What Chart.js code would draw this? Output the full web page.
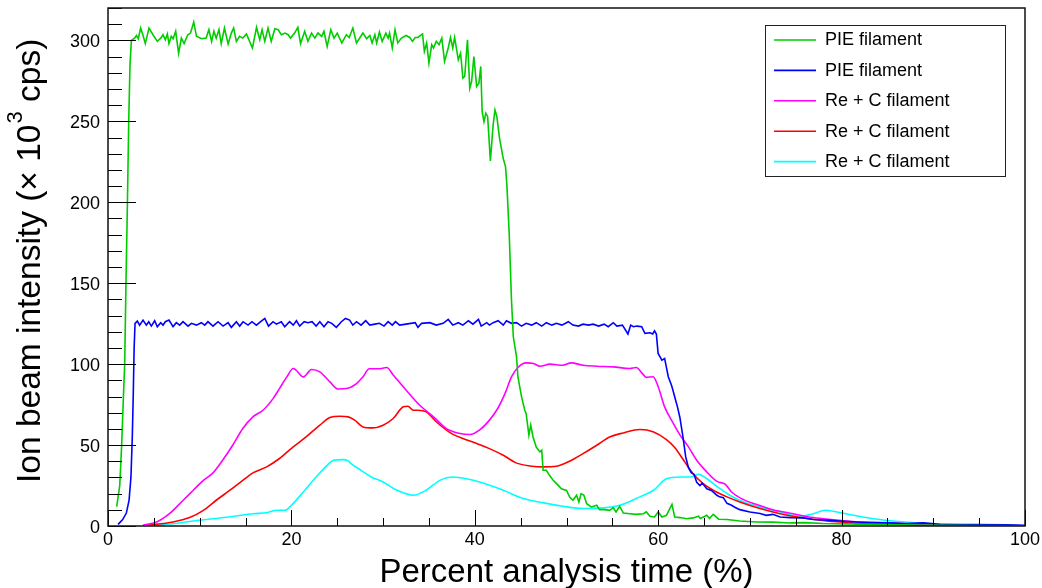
<!DOCTYPE html>
<html lang="en">
<head>
<meta charset="UTF-8">
<title>Ion beam intensity vs percent analysis time</title>
<script src="https://cdn.jsdelivr.net/npm/chart.js@4.4.1/dist/chart.umd.min.js"></script>
<style>
  html, body { margin: 0; padding: 0; background: #fff; }
  #wrap { width: 1042px; height: 588px; }
</style>
</head>
<body>
<div id="wrap"><canvas id="ionChart" width="1042" height="588"></canvas></div>
<script>
// series names and colours, in legend order
const seriesLabels = ['PIE filament', 'PIE filament', 'Re + C filament', 'Re + C filament', 'Re + C filament'];
const seriesColors = ['#00cc00', '#0000ff', '#ff00ff', '#ff0000', '#00ffff'];

// axis texts and ranges
const xTitle = 'Percent analysis time (%)';
const yTitleParts = ['Ion beam intensity (\u00d7 10', '3', ' cps)'];
const xRange = [0, 100];
const yRange = [0, 320];
const xStep = 20, xMinor = 5;
const yStep = 50, yMinor = 10;

// [percent, intensity]
const pieGreen = [
  [0.95,12],[1.28,25],[1.49,50],[1.65,75],[1.82,100],[1.96,150],[2.12,200],[2.26,250],[2.4,285],[2.55,300],
  [2.9,301.4],[3.1,303],[3.3,301],[3.56,307.6],[3.8,303.5],[4.07,298],[4.47,307.6],[4.9,303.5],[5.38,299.4],
  [5.75,301.4],[6.0,303.5],[6.25,300.4],[6.47,304],[6.65,298],[6.9,302.5],[7.1,301],[7.38,305.6],[7.7,292],
  [8.0,301.4],[8.3,298],[8.7,303.5],[9.0,304.5],[9.35,311.3],[9.65,302.5],[10.2,301],[10.7,301.4],[11.0,306.6],
  [11.3,299.4],[11.55,305.6],[11.8,301.4],[12.1,306.6],[12.35,298],[12.7,307.6],[13.1,297.7],[13.45,304.5],
  [13.7,307.6],[14.0,299.4],[14.35,302.5],[14.7,301.4],[15.1,304],[15.75,295.3],[16.2,308],[16.55,300.4],
  [16.8,306.6],[17.1,299.4],[17.45,307.6],[17.8,299.4],[18.2,307.2],[18.55,306.6],[18.9,303.5],[19.3,304.5],
  [19.65,303.5],[19.9,301.4],[20.35,304.5],[20.7,308],[21.0,298],[21.45,305.6],[21.8,299.4],[22.2,304.5],
  [22.55,301.4],[22.9,304.5],[23.3,302.5],[23.55,305.6],[23.9,296.3],[24.3,306.6],[24.65,301.4],[25.0,304.5],
  [25.5,298.4],[26.0,303.5],[26.3,301.8],[26.7,307.6],[27.1,298.4],[27.8,304.5],[28.2,301],[28.55,303],
  [28.8,298.4],[29.1,303.5],[29.3,298.4],[29.6,305.2],[29.9,299.4],[30.3,304.5],[30.55,301.4],[30.7,304.5],
  [31.0,295.3],[31.3,306.6],[31.6,298.4],[32.0,301.4],[32.5,303],[32.9,301.8],[33.2,299.4],[33.5,301.8],
  [33.8,301.8],[34.3,304],[34.5,293.2],[34.75,298.4],[35.0,286],[35.3,297.3],[35.5,295.3],[35.8,299.4],
  [36.1,297.3],[36.4,301.4],[36.7,287],[37.1,295.3],[37.35,301.8],[37.6,295.3],[37.8,301.8],[38.2,288],
  [38.45,292.1],[38.7,276.7],[38.9,277.7],[39.2,300.4],[39.45,270.5],[39.65,274.6],[39.9,290],[40.2,271.5],
  [40.45,273.6],[40.65,283.9],[40.8,256],[41.0,249.8],[41.2,255],[41.4,253],[41.7,225.5],[42.0,247.8],
  [42.2,257],[42.4,253],[42.7,239.5],[43.1,227],[43.35,222],[43.5,210.6],[43.75,181],[44.0,139.6],
  [44.2,116.9],[44.55,104.5],[44.7,92.2],[45.1,79.8],[45.45,71.5],[45.6,69.4],[45.9,56.1],[46.1,62.3],
  [46.35,55],[46.7,48.8],[47.1,45.8],[47.3,46.8],[47.45,34.4],[47.8,34.4],[48.15,31.3],[48.55,28.2],
  [49.1,25.1],[49.45,23],[50.0,22],[50.35,17.9],[50.7,15.9],[51.1,19],[51.35,14.8],[51.6,20],[51.9,19],
  [52.2,13.8],[52.7,11.8],[53.3,12.8],[53.6,10.1],[54.2,10.1],[54.7,9.7],[55.1,11.3],[55.4,8.7],[55.8,12.2],
  [56.2,8],[56.9,7.6],[57.6,7.2],[58.4,7.6],[58.7,8.7],[59.1,6],[59.6,5.6],[60.0,8.7],[60.4,5.6],[60.9,6.6],
  [61.5,13.4],[61.8,5.6],[62.4,5.2],[63.1,4.5],[63.8,5],[64.4,6],[64.6,4.6],[65.3,6.6],[65.6,4.6],[66.0,7.2],
  [66.6,4.2],[67.5,4],[68.9,3.1],[70.7,2.5],[72.5,2.4],[74.4,1.9],[76,2.1],[78.0,1.5],[80.5,1.3],[83.5,0.9],
  [88,0.6],[94.4,0.3],[100,0.2]
];

const pieBlue = [
  [1.1,1],[1.6,4],[2.0,8],[2.3,16],[2.5,30],[2.65,55],[2.75,80],[2.85,110],[2.95,125.2],
  [3.2,126.6],[3.45,124.1],[3.82,127.2],[4.18,124.1],[4.44,126.2],[4.73,123.5],[5.09,126.8],[5.38,123.1],
  [5.75,125.6],[6.0,124.1],[6.25,126.2],[6.65,127.2],[7.09,123.1],[7.45,125.6],[7.82,124.1],[8.18,126.2],
  [8.73,123.5],[9.09,125.2],[9.64,124.1],[10.18,125.6],[10.55,124.1],[10.9,126.2],[11.45,123.5],[12.0,126.2],
  [12.55,123.5],[13.1,125.6],[13.45,122.7],[14.0,126.2],[14.36,123.5],[14.73,126.2],[15.27,124.1],[15.7,126.2],
  [16.18,124.1],[16.65,126.2],[17.1,128.2],[17.5,123.5],[18.0,126.2],[18.36,124.7],[18.9,126.2],[19.27,123.1],
  [19.8,126.2],[20.2,124.1],[20.55,126.8],[20.9,123.5],[21.4,126.2],[21.8,125.6],[22.25,126.2],[22.7,123.5],
  [23.1,126.2],[23.55,123.1],[24.0,126.2],[24.4,125.2],[24.9,122.7],[25.45,126.2],[25.9,128.2],[26.35,127.2],
  [26.7,124.1],[27.1,126.2],[27.6,124.1],[28.1,126.8],[28.55,124.1],[29.1,124.7],[29.6,125.2],[30.1,123.5],
  [30.55,126.2],[31.0,124.1],[31.35,126.2],[31.8,124.1],[32.5,124.7],[33.5,125.6],[33.8,122.7],[34.2,125.2],
  [35.1,125.6],[35.8,124.1],[36.55,125.2],[37.1,127.6],[37.6,124.1],[38.2,125.6],[38.7,124.1],[39.3,126.8],
  [39.8,124.7],[40.4,127.6],[40.7,123.5],[41.3,125.6],[41.6,124.1],[42.0,125.6],[42.55,126.8],[43.1,124.1],
  [43.45,126.8],[44.0,125.2],[44.55,125.6],[45.1,123.5],[45.6,125.2],[46.2,124.1],[46.7,125.6],[47.3,123.5],
  [47.8,125.6],[48.4,124.1],[48.9,125.2],[49.5,124.1],[50.2,126.2],[50.7,124.1],[51.3,123.5],[51.8,124.7],
  [52.4,124.1],[52.9,124.7],[53.5,123.5],[54.1,124.7],[54.55,123.1],[55.1,125.6],[55.5,123.5],[56.1,124.1],
  [56.7,118.6],[57.0,124.1],[57.3,123.1],[57.7,123.5],[58.2,123.1],[58.55,119],[59.1,119.4],[59.4,118.6],
  [59.6,120.6],[59.8,118.6],[59.99,106.6],[60.4,102.5],[60.7,103.5],[61.1,92.2],[61.45,87],[61.6,84],
  [61.9,77.7],[62.1,73.6],[62.36,67.2],[62.7,55],[63.0,42.7],[63.3,36],[63.6,33],[63.9,32],[64.2,27],
  [64.55,25],[64.8,26.5],[65.3,23],[65.8,22],[66.4,19],[66.7,18],[67.1,17.5],[67.5,14],[68,12.8],[68.4,11.4],
  [68.9,10.1],[70,8.7],[71.1,7.7],[71.8,6.6],[72.5,7.2],[73.3,5.6],[74.4,5.2],[75.8,5],[76.9,4],[78.4,3.6],
  [79.8,3.1],[81.6,2.5],[83.5,2.1],[85.3,1.9],[87.1,1.5],[88.9,1.9],[90.7,1.1],[94.4,0.9],[98,0.7],[100,0.5]
];

const reMagenta = [
  [3.8,0.5],[5.3,2.5],[6.7,7.6],[8.2,15.9],[9.3,22.1],[10.4,28.2],[11.45,32.8],[12.5,40.6],[13.6,49.9],
  [14.7,60.2],[15.8,67.4],[16.9,71.5],[18.0,78.7],[18.7,84.9],[19.5,92.1],[20.2,97.3],[20.5,96.3],[21.3,92.1],
  [22.2,96.7],[23.1,95.2],[24.2,89],[25.1,84.6],[26,84.9],[27.1,88],[27.8,92.1],[28.5,97.1],[29.5,97.1],
  [30.4,97.9],[31.1,93.3],[32.5,84],[34,74.6],[35.5,67.4],[36.9,60.2],[38.4,57.1],[39.45,56.5],[40.5,59.2],
  [41.6,65.4],[42.5,72.6],[43.3,81.9],[44,92.1],[44.7,97.9],[45.6,100.8],[46.4,100.4],[47.1,98.7],[48.2,100],
  [49.6,99.3],[50.5,100.8],[51.8,99.3],[53.3,98.7],[55.1,98.3],[56.9,97.3],[57.6,97.9],[58.3,94],[58.7,91.8],
  [59.45,92.2],[60,86],[60.7,73.6],[61.45,65.4],[62.4,56],[63.3,48.9],[64.2,40.6],[65.3,33.4],[66.4,27.6],
  [67.3,25.8],[68,21],[69.3,16.3],[70.7,13.4],[72.5,10.1],[74.7,7.6],[76.9,5.2],[79.1,3.9],[82,2.5],
  [84.9,1.9],[88.2,1.1],[91.8,0.7],[100,0.1]
];

const reRed = [
  [4.2,0.4],[7.1,2.5],[8.9,5.2],[10.4,9.7],[11.8,15.9],[13.3,22.1],[14.7,28.2],[15.8,32.8],[17.3,36.5],
  [18.7,41.7],[20.2,48.9],[21.6,55],[23.1,62.3],[24.2,67],[25.3,67.8],[26.2,67.4],[26.9,65.4],[27.8,61.2],
  [28.9,60.6],[30,62.3],[31.1,66.4],[32.2,73.6],[32.7,74],[33.3,71.5],[33.8,71.5],[34.7,70.5],[35.8,64.4],
  [37.3,57.7],[38.7,54],[40.2,51],[41.6,47.8],[43.1,43.7],[44.5,39],[46,37.1],[47.5,36.5],[48.9,36.9],
  [50.4,40.2],[51.8,44.7],[53.3,49.9],[54.7,55],[56.2,57.5],[58,59.6],[59.5,58.1],[60.9,53.4],[61.8,48.5],
  [62.9,39.6],[63.8,32.3],[64.9,26.2],[66,22.1],[67.5,18],[68.9,14.9],[71.1,10.8],[73.3,7.6],[75.5,5.2],
  [78.4,3.1],[81.3,1.9],[84.9,0.9],[90,0.3],[100,0.1]
];

const reCyan = [
  [5.3,0.4],[7.1,1.4],[9.3,3.1],[11.45,4.5],[13.6,5.9],[15.8,7.6],[17.3,8.2],[18.4,9.7],[19.3,9.7],[20,12.8],
  [21.3,21],[22.7,30.3],[23.9,37.5],[24.6,40.6],[25.6,41],[26.2,40.2],[26.5,38.6],[27.6,34.4],[28.7,30.3],
  [30,27.2],[31.5,22.1],[33.3,19],[34.7,22.1],[36.2,28.2],[37.6,30.3],[39.1,29.2],[40.9,26.6],[43.1,22.1],
  [45.3,17],[47.5,14.3],[49.6,12.2],[51.8,10.8],[54,11.2],[55.8,12.8],[58,18],[59.5,22.1],[60.9,29.2],
  [62.4,30.3],[63.5,30.3],[64.4,31.9],[65.3,29.2],[66.4,24.5],[67.8,19],[69.3,14.9],[71.1,11.8],[73.3,8.7],
  [75.5,5.9],[76.9,7.6],[78.2,9.7],[79.5,8.7],[81.3,6.6],[83.5,4.5],[85.6,3.1],[88.5,1.9],[91.8,1.1],[100,0.1]
];

const seriesData = [pieGreen, pieBlue, reMagenta, reRed, reCyan];
const smoothSeries = [false, false, true, true, true];

const FONT = "'Liberation Sans', Arial, sans-serif";

// frame, inward ticks, titles and legend box in the ROOT look
const rootDecor = {
  id: 'rootDecor',
  afterDraw(chart) {
    const { ctx, chartArea: a, scales: { x, y } } = chart;
    ctx.save();
    ctx.strokeStyle = '#000';
    ctx.lineWidth = 1;
    ctx.beginPath();
    for (let v = yRange[0]; v <= yRange[1]; v += yMinor) {
      const py = Math.round(y.getPixelForValue(v)) + 0.5;
      const len = v % yStep === 0 ? 28 : 14;
      ctx.moveTo(a.left, py);
      ctx.lineTo(a.left + len, py);
    }
    for (let v = xRange[0]; v <= xRange[1]; v += xMinor) {
      const px = Math.round(x.getPixelForValue(v)) + 0.5;
      const len = v % xStep === 0 ? 16 : 8;
      ctx.moveTo(px, a.bottom);
      ctx.lineTo(px, a.bottom - len);
    }
    ctx.stroke();

    ctx.lineWidth = 1.5;
    ctx.strokeStyle = '#111';
    ctx.strokeRect(a.left, a.top, a.right - a.left, a.bottom - a.top);

    // x title
    ctx.fillStyle = '#000';
    ctx.font = '33px ' + FONT;
    ctx.textAlign = 'center';
    ctx.textBaseline = 'alphabetic';
    ctx.fillText(xTitle, (a.left + a.right) / 2, 582);

    // y title with superscript, rotated
    ctx.save();
    ctx.translate(39.5, 483);
    ctx.rotate(-Math.PI / 2);
    ctx.textAlign = 'left';
    ctx.font = '33.5px ' + FONT;
    ctx.fillText(yTitleParts[0], 0, 0);
    let off = ctx.measureText(yTitleParts[0]).width + 1;
    ctx.font = '22px ' + FONT;
    ctx.fillText(yTitleParts[1], off, -18);
    off += ctx.measureText(yTitleParts[1]).width;
    ctx.font = '33.5px ' + FONT;
    ctx.fillText(yTitleParts[2], off, 0);
    ctx.restore();

    // legend
    const box = { l: 765.5, t: 25.5, r: 1005.5, b: 176.5 };
    ctx.lineWidth = 1;
    ctx.strokeStyle = '#222';
    ctx.strokeRect(box.l, box.t, box.r - box.l, box.b - box.t);
    ctx.font = '18px ' + FONT;
    ctx.textAlign = 'left';
    ctx.textBaseline = 'middle';
    chart.data.datasets.forEach((ds, i) => {
      const ry = 40 + i * 30.4;
      ctx.strokeStyle = ds.borderColor;
      ctx.lineWidth = 1.6;
      ctx.beginPath();
      ctx.moveTo(774, ry);
      ctx.lineTo(816, ry);
      ctx.stroke();
      ctx.fillStyle = '#000';
      ctx.fillText(ds.label, 825, ry + 0.5);
    });
    ctx.restore();
  }
};

const ctx = document.getElementById('ionChart').getContext('2d');
new Chart(ctx, {
  type: 'line',
  data: {
    datasets: seriesData.map((pts, i) => ({
      label: seriesLabels[i],
      data: pts,
      borderColor: seriesColors[i],
      backgroundColor: seriesColors[i],
      borderWidth: 1.6,
      pointRadius: 0,
      fill: false,
      tension: 0,
      cubicInterpolationMode: smoothSeries[i] ? 'monotone' : 'default'
    }))
  },
  options: {
    responsive: false,
    animation: false,
    devicePixelRatio: 1,
    layout: { padding: { left: 0, top: 8, right: 17, bottom: 0 } },
    plugins: {
      legend: { display: false },
      tooltip: { enabled: false }
    },
    scales: {
      x: {
        type: 'linear',
        min: xRange[0],
        max: xRange[1],
        grid: { display: false, drawTicks: false },
        border: { display: false },
        ticks: {
          stepSize: xStep,
          color: '#000',
          padding: 3,
          maxRotation: 0,
          font: { family: FONT, size: 18 }
        },
        afterFit(s) {
          s.height = 62;
          s.paddingLeft = 0; s.paddingRight = 0; s.paddingTop = 0; s.paddingBottom = 0;
        }
      },
      y: {
        type: 'linear',
        min: yRange[0],
        max: yRange[1],
        grid: { display: false, drawTicks: false },
        border: { display: false },
        ticks: {
          stepSize: yStep,
          includeBounds: false,
          color: '#000',
          padding: 8,
          labelOffset: 2,
          font: { family: FONT, size: 18 }
        },
        afterFit(s) {
          s.width = 108;
          s.paddingLeft = 0; s.paddingRight = 0; s.paddingTop = 0; s.paddingBottom = 0;
        }
      }
    }
  },
  plugins: [rootDecor]
});
</script>
</body>
</html>
